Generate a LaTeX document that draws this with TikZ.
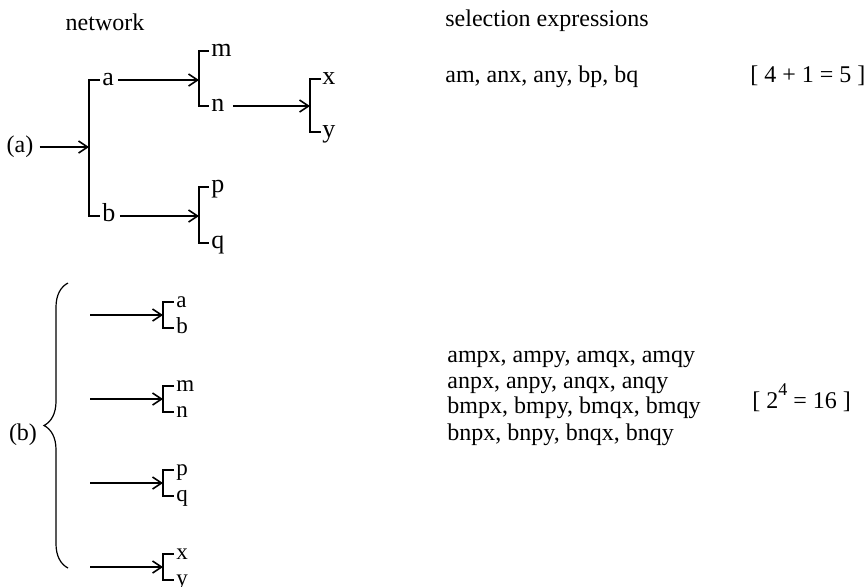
\documentclass[tikz,border=0pt]{standalone}
\usepackage{fontspec}
\setmainfont{Liberation Serif}
\usetikzlibrary{arrows.meta,decorations.pathreplacing}
\begin{document}
\begin{tikzpicture}[x=0.5pt,y=-0.5pt,
  txt/.style={inner sep=0pt, anchor=base west, font=\fontsize{12}{13}\selectfont},
  lbl/.style={inner sep=0pt, font=\fontsize{12}{13}\selectfont},
  leaf/.style={inner sep=0pt, anchor=base west, yshift=-2.9pt, font=\fontsize{13}{13}\selectfont},
  sleaf/.style={inner sep=0pt, anchor=base west, yshift=-2.6pt, font=\fontsize{11.5}{12}\selectfont},
  brk/.style={line width=0.8pt, line join=miter},
  arr/.style={line width=0.8pt, -{Straight Barb[length=4.5pt,width=6pt]}},
]
\useasboundingbox (0,0) rectangle (867,586);

% headings
\node[lbl] (hnet) at (105,22) {network};
\node[txt] (hsel) at (445,26) {selection expressions};

% ---------- (a) ----------
\node[lbl] (la) at (20,147) {(a)};
\coordinate (r) at (89,147);
\draw[brk] (100,80) -- (89,80) -- (89,216) -- (100,216);
\draw[arr] ([xshift=3pt]la.east) -- (r);

\node[leaf] (na) at (102,80) {a};
\node[leaf] (nb) at (102,216) {b};

\coordinate (mn) at (199,80);
\draw[brk] (209,51) -- (199,51) -- (199,106) -- (209,106);
\node[leaf] (nm) at (211,51) {m};
\node[leaf] (nn) at (211,106) {n};
\draw[arr] ([xshift=2pt]na.east |- mn) -- (mn);

\coordinate (pq) at (199,216);
\draw[brk] (209,187) -- (199,187) -- (199,243) -- (209,243);
\node[leaf] (np) at (211,187) {p};
\node[leaf] (nq) at (211,243) {q};
\draw[arr] ([xshift=2pt]nb.east |- pq) -- (pq);

\coordinate (xy) at (310,106);
\draw[brk] (321,79) -- (310,79) -- (310,132) -- (321,132);
\node[leaf] (nx) at (322,79) {x};
\node[leaf] (ny) at (322,132) {y};
\draw[arr] ([xshift=4pt]nn.east |- xy) -- (xy);

\node[txt] (sa) at (445,82) {am, anx, any, bp, bq};
\node[txt] (ca) at (750,82) {[ 4 + 1 = 5 ]};

% ---------- (b) ----------
\node[lbl] (lb) at (23,435) {(b)};
\draw[line width=0.6pt, decorate, decoration={brace, amplitude=12pt}] (68,568) -- (68,283);

\foreach \i/\yy/\u/\v in {1/315/a/b, 2/399/m/n, 3/483/p/q, 4/567/x/y}{
  \coordinate (s\i) at (90,\yy);
  \coordinate (k\i) at (163,\yy);
  \draw[brk] (174,\yy-13) -- (163,\yy-13) -- (163,\yy+13) -- (174,\yy+13);
  \node[sleaf] (u\i) at (176,\yy-13) {\u};
  \node[sleaf] (v\i) at (176,\yy+13) {\v};
  \draw[arr] (s\i) -- (k\i);
}

\node[txt] (e1) at (447,362) {ampx, ampy, amqx, amqy};
\node[txt] (e2) at (447,388) {anpx, anpy, anqx, anqy};
\node[txt] (e3) at (447,413) {bmpx, bmpy, bmqx, bmqy};
\node[txt] (e4) at (447,440) {bnpx, bnpy, bnqx, bnqy};
\node[txt] (cb) at (752,408) {[ 2\raisebox{1.1ex}{\fontsize{9}{10}\selectfont 4} = 16 ]};
\end{tikzpicture}
\end{document}
